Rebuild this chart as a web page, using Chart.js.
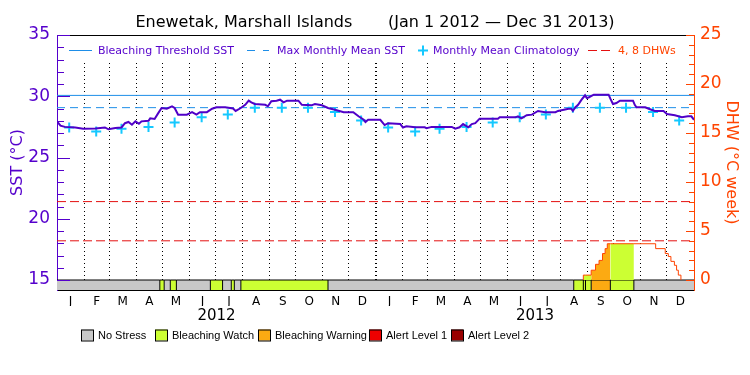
<!DOCTYPE html>
<html>
<head>
<meta charset="utf-8">
<title>Enewetak, Marshall Islands SST / DHW</title>
<script src="https://cdn.jsdelivr.net/npm/chart.js@4.4.1/dist/chart.umd.min.js"></script>
<style>
    html, body { margin: 0; padding: 0; background: #fff; }
</style>
</head>
<body>
<canvas id="chart" width="750" height="375"></canvas>
<script>
// month letters on the axis, year names under them
var monthLetters = ["J", "F", "M", "A", "M", "J", "J", "A", "S", "O", "N", "D"];
var yearLabels = ["2012", "2013"];
// day number (0 = Jan 1 2012) where each month starts, last one = end of 2013
var monthStartDays = [0, 31, 60, 91, 121, 152, 182, 213, 244, 274, 305, 335,
    366, 397, 425, 456, 486, 517, 547, 578, 609, 639, 670, 700, 731];

// satellite SST
var sstDays = [0, 4, 9, 21, 30, 44, 55, 59, 67, 74,
    78, 82, 86, 90, 94, 97, 105, 107, 112, 116,
    120, 126, 132, 135, 139, 149, 155, 160, 164, 172,
    178, 183, 193, 202, 205, 210, 216, 220, 223, 227,
    239, 242, 246, 252, 256, 260, 264, 277, 281, 292,
    296, 304, 311, 319, 329, 340, 346, 352, 354, 357,
    365, 371, 376, 380, 394, 397, 401, 411, 422, 424,
    430, 453, 457, 462, 466, 472, 476, 480, 485, 506,
    508, 526, 529, 533, 539, 545, 552, 560, 572, 575,
    587, 590, 592, 595, 598, 602, 606, 608, 610, 616,
    633, 635, 638, 642, 646, 661, 663, 665, 675, 679,
    686, 696, 700, 709, 717, 724, 728, 731];
var sstValues = [27.95, 27.6, 27.5, 27.45, 27.35, 27.37, 27.45, 27.3, 27.4, 27.45,
    27.8, 27.9, 27.68, 27.95, 27.75, 27.95, 28.0, 28.2, 28.15, 28.6,
    29.04, 28.98, 29.18, 29.04, 28.5, 28.5, 28.7, 28.5, 28.7, 28.7,
    28.98, 29.1, 29.1, 29.0, 28.8, 29.0, 29.3, 29.64, 29.5, 29.37,
    29.3, 29.18, 29.59, 29.64, 29.72, 29.5, 29.64, 29.64, 29.3, 29.26,
    29.37, 29.26, 29.04, 28.9, 28.7, 28.7, 28.37, 28.08, 27.9, 28.08,
    28.08, 28.08, 27.65, 27.8, 27.73, 27.45, 27.55, 27.47, 27.47, 27.4,
    27.5, 27.5, 27.36, 27.47, 27.73, 27.47, 27.73, 27.8, 28.17, 28.17,
    28.28, 28.28, 28.36, 28.2, 28.45, 28.5, 28.8, 28.7, 28.7, 28.8,
    28.98, 28.98, 28.8, 29.1, 29.3, 29.72, 30.08, 29.86, 29.9, 30.13,
    30.13, 29.8, 29.37, 29.45, 29.64, 29.64, 29.3, 29.1, 29.1, 28.98,
    28.8, 28.8, 28.55, 28.45, 28.28, 28.36, 28.36, 28.08];

// monthly mean climatology, Jan..Dec (same both years)
var climatology = [27.45, 27.12, 27.34, 27.5, 27.86, 28.28, 28.52, 29.07, 29.07, 29.07, 28.72, 28.02];
var maxMonthlyMean = 29.07;
var bleachingThreshold = 30.07;
var dhwLevels = [4, 8];

// degree heating weeks, each value holds from its day to the next one
var dhwDays = [604, 613, 618, 622, 626, 629, 631.5, 687, 698, 701.5, 704.5, 708.5, 711, 713, 716];
var dhwValues = [0.5, 1.0, 1.6, 2.0, 2.7, 3.2, 3.7, 3.2, 2.7, 2.4, 1.9, 1.5, 1.0, 0.5, 0];

// stress level strip
var statusNames = ["No Stress", "Bleaching Watch", "Bleaching Warning", "Alert Level 1", "Alert Level 2"];
var statusColors = ["#c8c8c8", "#ccff33", "#fcaa12", "#ee0000", "#990000"];
var statusDays = [0, 118, 123, 130, 137, 176, 190, 200, 203.5, 211, 311, 593, 604, 606.5, 613, 635, 662];
var statusLevels = [0, 1, 0, 1, 0, 1, 0, 1, 0, 1, 0, 1, 1, 1, 2, 1, 0];

var purple = "#5500cc";
var sstColor = "#5000c8";
var blue = "#1e8ee8";
var cyan = "#14c8ff";
var orange = "#ff4400";
var red = "#e41010";

var endDay = monthStartDays[monthStartDays.length - 1];
// the strip hangs 10px under the 15 / 0 line, chart area is 255px high
var stripFrac = 10 / 255;
var sstMin = 15 - 20 * stripFrac / (1 - stripFrac);
var dhwMin = -25 * stripFrac / (1 - stripFrac);

function stepAt(days, vals, day, dflt) {
    var v = dflt;
    for (var i = 0; i < days.length; i++) {
        if (days[i] <= day) v = vals[i];
    }
    return v;
}

// SST points
var sstPoints = sstDays.map(function (d, i) { return { x: d, y: sstValues[i] }; });

// climatology crosses at mid month
var climPoints = [];
for (var m = 0; m < 24; m++) {
    climPoints.push({ x: monthStartDays[m] + 14, y: climatology[m % 12] });
}

// DHW with extra points where the stress level changes, so the fill can switch colour
var dhwAllDays = dhwDays.concat(statusDays.filter(function (d) {
    return d > dhwDays[0] && d < dhwDays[dhwDays.length - 1];
}));
dhwAllDays = dhwAllDays.filter(function (d, i) { return dhwAllDays.indexOf(d) === i; })
    .sort(function (a, b) { return a - b; });
var dhwPoints = [{ x: dhwDays[0], y: 0 }];
dhwAllDays.forEach(function (d) {
    dhwPoints.push({ x: d, y: stepAt(dhwDays, dhwValues, d, 0) });
});

// strip along the bottom
var stripPoints = statusDays.map(function (d) { return { x: d, y: 15 }; });
stripPoints.push({ x: endDay, y: 15 });
var dividerPoints = statusDays.slice(1).map(function (d) {
    return { x: d, y: (15 + sstMin) / 2 };
});

function flat(v) {
    return [{ x: 0, y: v }, { x: endDay, y: v }];
}

var datasets = [
    {
        label: "SST", data: sstPoints, yAxisID: "sst", order: 1,
        borderColor: sstColor, borderWidth: 2, pointRadius: 0,
    },
    {
        label: "Monthly Mean Climatology", data: climPoints, yAxisID: "sst", order: 2,
        showLine: false, pointStyle: "cross", pointRadius: 5,
        pointBorderColor: cyan, pointBorderWidth: 2,
    },
    {
        label: "Bleaching Threshold SST", data: flat(bleachingThreshold), yAxisID: "sst", order: 3,
        borderColor: blue, borderWidth: 1, pointRadius: 0,
    },
    {
        label: "Max Monthly Mean SST", data: flat(maxMonthlyMean), yAxisID: "sst", order: 4,
        borderColor: blue, borderWidth: 1, borderDash: [8, 5], pointRadius: 0,
    },
    {
        label: "DHW", data: dhwPoints, yAxisID: "dhw", order: 5,
        stepped: true, fill: "origin", borderColor: orange, borderWidth: 1, pointRadius: 0,
        segment: {
            backgroundColor: function (ctx) {
                var lvl = stepAt(statusDays, statusLevels, dhwPoints[ctx.p0DataIndex].x, 0);
                return lvl === 0 ? "rgba(0,0,0,0)" : statusColors[lvl];
            },
        },
    },
    {
        label: "stress strip", data: stripPoints, yAxisID: "sst", order: 9,
        fill: "start", borderColor: "#000", borderWidth: 1, pointRadius: 0,
        segment: {
            backgroundColor: function (ctx) {
                return statusColors[stepAt(statusDays, statusLevels, stripPoints[ctx.p0DataIndex].x, 0)];
            },
        },
    },
    {
        label: "strip dividers", data: dividerPoints, yAxisID: "sst", order: 8,
        showLine: false, pointStyle: "line", rotation: 90, pointRadius: 5,
        pointBorderColor: "#000", pointBorderWidth: 1,
    },
];
dhwLevels.forEach(function (lvl) {
    datasets.push({
        label: lvl + " DHW", data: flat(lvl), yAxisID: "dhw", order: 6,
        borderColor: red, borderWidth: 1, borderDash: [9, 4], pointRadius: 0,
    });
});

// the month grid stops under the key row
var keyBand = {
    id: "keyBand",
    beforeDatasetsDraw: function (chart) {
        var ctx = chart.ctx, a = chart.chartArea;
        ctx.save();
        ctx.fillStyle = "#fff";
        ctx.fillRect(a.left + 1, a.top + 1, a.right - a.left - 2, 24);
        ctx.restore();
    },
};

// inward tick marks on both y axes
var tickMarks = {
    id: "tickMarks",
    afterDatasetsDraw: function (chart) {
        var ctx = chart.ctx, a = chart.chartArea;
        var s = chart.scales.sst, d = chart.scales.dhw;
        ctx.save();
        ctx.lineWidth = 1;
        ctx.strokeStyle = purple;
        for (var v = 15; v <= 35; v++) {
            var y = Math.round(s.getPixelForValue(v)) + 0.5;
            ctx.beginPath();
            ctx.moveTo(a.left, y);
            ctx.lineTo(a.left + (v % 5 === 0 ? 13 : 7), y);
            ctx.stroke();
        }
        ctx.strokeStyle = orange;
        for (var w = 0; w <= 25; w++) {
            var y2 = Math.round(d.getPixelForValue(w)) + 0.5;
            ctx.beginPath();
            ctx.moveTo(a.right, y2);
            ctx.lineTo(a.right - (w % 5 === 0 ? 8 : 5), y2);
            ctx.stroke();
        }
        ctx.restore();
    },
};

// key inside the plot and the stress key under it
var topKeys = [
    { text: "Bleaching Threshold SST", mark: "line", color: blue, dash: [], x0: 69, x1: 92, tx: 98, textColor: purple },
    { text: "Max Monthly Mean SST", mark: "line", color: blue, dash: [8, 8], x0: 247, x1: 269, tx: 277, textColor: purple },
    { text: "Monthly Mean Climatology", mark: "cross", color: cyan, x0: 418, x1: 428, tx: 433, textColor: purple },
    { text: "4, 8 DHWs", mark: "line", color: red, dash: [9, 4], x0: 588, x1: 610, tx: 618, textColor: orange },
];
var bottomKeyX = [81, 155, 258, 369, 451];

var keys = {
    id: "keys",
    afterDraw: function (chart) {
        var ctx = chart.ctx;
        ctx.save();
        ctx.textBaseline = "middle";
        ctx.textAlign = "left";
        ctx.font = '11px "DejaVu Sans"';
        var y = 50.5;
        topKeys.forEach(function (k) {
            ctx.strokeStyle = k.color;
            if (k.mark === "line") {
                ctx.lineWidth = 1;
                ctx.setLineDash(k.dash);
                ctx.beginPath();
                ctx.moveTo(k.x0, y);
                ctx.lineTo(k.x1, y);
                ctx.stroke();
                ctx.setLineDash([]);
            } else {
                var cx = (k.x0 + k.x1) / 2;
                ctx.lineWidth = 2;
                ctx.beginPath();
                ctx.moveTo(k.x0, y);
                ctx.lineTo(k.x1, y);
                ctx.moveTo(cx, y - 5);
                ctx.lineTo(cx, y + 5);
                ctx.stroke();
            }
            ctx.fillStyle = k.textColor;
            ctx.fillText(k.text, k.tx, y + 1);
        });

        ctx.font = '11px "Liberation Sans"';
        var by = 335;
        statusNames.forEach(function (name, i) {
            var x = bottomKeyX[i];
            ctx.fillStyle = statusColors[i];
            ctx.fillRect(x, by - 5.5, 12, 11);
            ctx.lineWidth = 1;
            ctx.strokeStyle = "#000";
            ctx.strokeRect(x + 0.5, by - 5, 12, 11);
            ctx.fillStyle = "#000";
            ctx.fillText(name, x + 17, by + 1);
        });
        ctx.restore();
    },
};

Chart.defaults.font.family = '"DejaVu Sans", sans-serif';

var ctx = document.getElementById("chart").getContext("2d");
var myChart = new Chart(ctx, {
    type: "line",
    data: { datasets: datasets },
    options: {
        responsive: false,
        animation: false,
        devicePixelRatio: 1,
        layout: { padding: { left: 0, right: 0, top: 0, bottom: 47 } },
        scales: {
            x: {
                type: "linear", min: 0, max: endDay, position: "bottom",
                ticks: { display: false },
                grid: {
                    color: "#000", drawTicks: false,
                    lineWidth: function (c) { return c.tick && c.tick.value === 366 ? 2 : 1; },
                },
                border: { color: "#000", width: 1, dash: [1, 3] },
                afterBuildTicks: function (s) {
                    s.ticks = monthStartDays.slice(1, -1).map(function (v) { return { value: v }; });
                },
                afterFit: function (s) { s.height = 0; },
            },
            xm: {
                type: "linear", axis: "x", min: 0, max: endDay, position: "bottom",
                grid: { display: false, drawTicks: false },
                border: { display: false },
                ticks: {
                    color: "#000", font: { size: 12 }, padding: 5,
                    autoSkip: false, maxRotation: 0,
                    callback: function (v, i) { return monthLetters[i % 12]; },
                },
                afterBuildTicks: function (s) {
                    var t = [];
                    for (var i = 0; i < 24; i++) {
                        t.push({ value: (monthStartDays[i] + monthStartDays[i + 1]) / 2 });
                    }
                    s.ticks = t;
                },
                afterFit: function (s) { s.height = 16; },
            },
            xy: {
                type: "linear", axis: "x", min: 0, max: endDay, position: "bottom",
                grid: { display: false, drawTicks: false },
                border: { display: false },
                ticks: {
                    color: "#000", font: { size: 15 }, padding: 1,
                    autoSkip: false, maxRotation: 0,
                    callback: function (v, i) { return yearLabels[i]; },
                },
                afterBuildTicks: function (s) {
                    s.ticks = [
                        { value: (monthStartDays[0] + monthStartDays[12]) / 2 },
                        { value: (monthStartDays[12] + monthStartDays[24]) / 2 },
                    ];
                },
                afterFit: function (s) { s.height = 22; },
            },
            xt: {
                type: "linear", axis: "x", min: 0, max: endDay, position: "top",
                grid: { display: false, drawTicks: false },
                border: { color: "#000", width: 1 },
                ticks: { display: false },
                afterFit: function (s) { s.height = 0; },
            },
            sst: {
                type: "linear", axis: "y", position: "left", min: sstMin, max: 35,
                grid: { display: false, drawTicks: false },
                border: { color: purple, width: 1 },
                ticks: { color: purple, font: { size: 17 }, padding: 7 },
                title: {
                    display: true, text: "SST (°C)", color: purple,
                    font: { size: 16 }, padding: { top: 8, bottom: 0 },
                },
                afterBuildTicks: function (s) {
                    s.ticks = [15, 20, 25, 30, 35].map(function (v) { return { value: v }; });
                },
                afterFit: function (s) { s.width = 57; },
            },
            dhw: {
                type: "linear", axis: "y", position: "right", min: dhwMin, max: 25,
                grid: { display: false, drawTicks: false },
                border: { color: orange, width: 1 },
                ticks: { color: orange, font: { size: 17 }, padding: 6 },
                title: {
                    display: true, text: "DHW (°C week)", color: orange,
                    font: { size: 16 }, padding: { top: 9, bottom: 0 },
                },
                afterBuildTicks: function (s) {
                    s.ticks = [0, 5, 10, 15, 20, 25].map(function (v) { return { value: v }; });
                },
                afterFit: function (s) { s.width = 56; },
            },
        },
        plugins: {
            legend: { display: false },
            tooltip: { enabled: false },
            title: {
                display: true,
                text: "Enewetak, Marshall Islands       (Jan 1 2012 \u2014 Dec 31 2013)",
                color: "#000",
                font: { size: 16, weight: "normal", lineHeight: 1.25 },
                padding: { top: 13, bottom: 2 },
            },
        },
    },
    plugins: [keyBand, tickMarks, keys],
});
</script>
</body>
</html>
